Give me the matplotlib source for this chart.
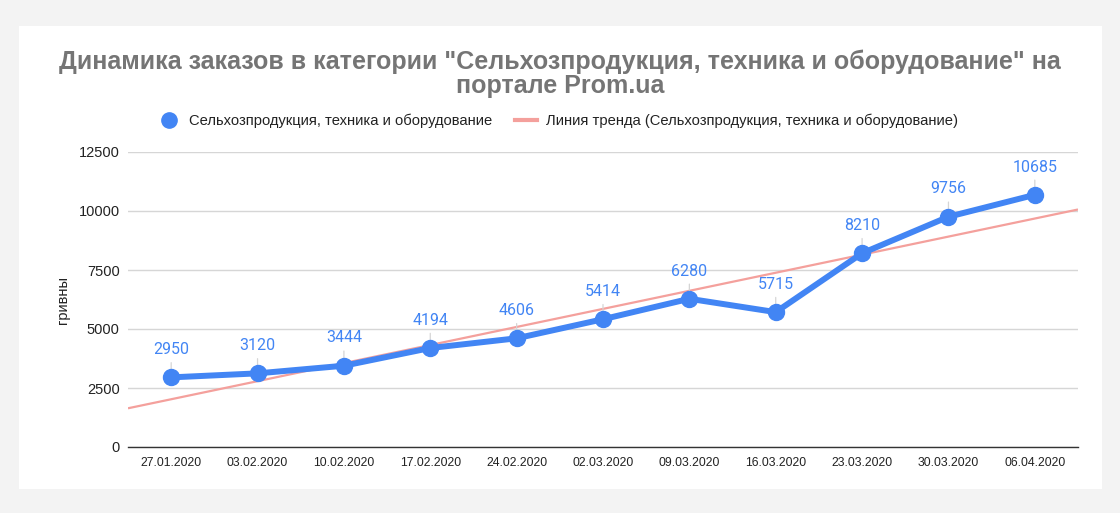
import matplotlib
matplotlib.use("Agg")
import matplotlib.pyplot as plt
import numpy as np
from matplotlib.lines import Line2D
from matplotlib.patches import Rectangle

dates = ["27.01.2020", "03.02.2020", "10.02.2020", "17.02.2020", "24.02.2020",
         "02.03.2020", "09.03.2020", "16.03.2020", "23.03.2020", "30.03.2020", "06.04.2020"]
values = [2950, 3120, 3444, 4194, 4606, 5414, 6280, 5715, 8210, 9756, 10685]
yticks = [0, 2500, 5000, 7500, 10000, 12500]
title = 'Динамика заказов в категории "Сельхозпродукция, техника и оборудование" на\nпортале Prom.ua'
series_name = "Сельхозпродукция, техника и оборудование"
trend_name = "Линия тренда (Сельхозпродукция, техника и оборудование)"
ylabel = "гривны"

BLUE = "#4285f4"
TREND = "#f4a09c"
plt.rcParams["font.family"] = ["Liberation Sans", "DejaVu Sans"]

fig = plt.figure(figsize=(11.2, 5.13), dpi=100)
fig.patch.set_facecolor("#f3f3f3")
fig.add_artist(Rectangle((19/1120, 1-489/513), (1102-19)/1120, (489-26)/513,
                         transform=fig.transFigure, facecolor="white", edgecolor="none", zorder=0))

ax = fig.add_axes([128/1120, 1-447/513, (1078-128)/1120, (447-152)/513])
ax.set_facecolor("white")
x = np.arange(len(values))
ax.set_xlim(-0.5, len(values)-0.5)
ax.set_ylim(0, 12500)

# trend line
coef = np.polyfit(x, values, 1)
xt = np.array([-0.5, len(values)-0.5])
ax.plot(xt, np.polyval(coef, xt), color=TREND, lw=1.6, zorder=2, solid_capstyle="butt")

ax.plot(x, values, color=BLUE, lw=4.3, marker="o", markersize=11.5, zorder=3, clip_on=False)

for xi, v in zip(x, values):
    ax.annotate(str(v), xy=(xi, v), xytext=(0, 20), textcoords="offset points",
                ha="center", va="center", color=BLUE, fontsize=11.5, family=["Roboto", "DejaVu Sans"],
                zorder=2.5,
                arrowprops=dict(arrowstyle="-", color="#d5d5d5", lw=0.9, shrinkA=2, shrinkB=5))

ax.set_yticks(yticks)
ax.set_yticklabels([str(t) for t in yticks])
ax.set_xticks(x)
ax.set_xticklabels(dates)
ax.tick_params(axis="both", length=0, colors="#222222")
ax.tick_params(axis="y", labelsize=10.5, pad=6)
ax.tick_params(axis="x", labelsize=8.8, pad=7)
ax.grid(axis="y", color="#d6d6d6", lw=1)
ax.set_axisbelow(True)
for s in ["top", "right", "left"]:
    ax.spines[s].set_visible(False)
ax.spines["bottom"].set_color("#333333")
ax.spines["bottom"].set_linewidth(1)

fig.text(63/1120, 1-300/513, ylabel, rotation=90, ha="center", va="center", fontsize=10.5, color="#222222")

fig.text(560/1120, 1-74/513, title, ha="center", va="center", fontsize=18, fontweight="bold",
         color="#757575", linespacing=1.0)

handles = [Line2D([], [], color=BLUE, marker="o", linestyle="none", markersize=11),
           Line2D([], [], color=TREND, lw=3)]
fig.legend(handles, [series_name, trend_name], loc="center", bbox_to_anchor=(558/1120, 1-121/513),
           ncol=2, frameon=False, fontsize=10.6, handlelength=1.5, handletextpad=0.6, columnspacing=1.6,
           labelcolor="#222222")

fig.savefig("out.png", dpi=100, facecolor=fig.get_facecolor())
